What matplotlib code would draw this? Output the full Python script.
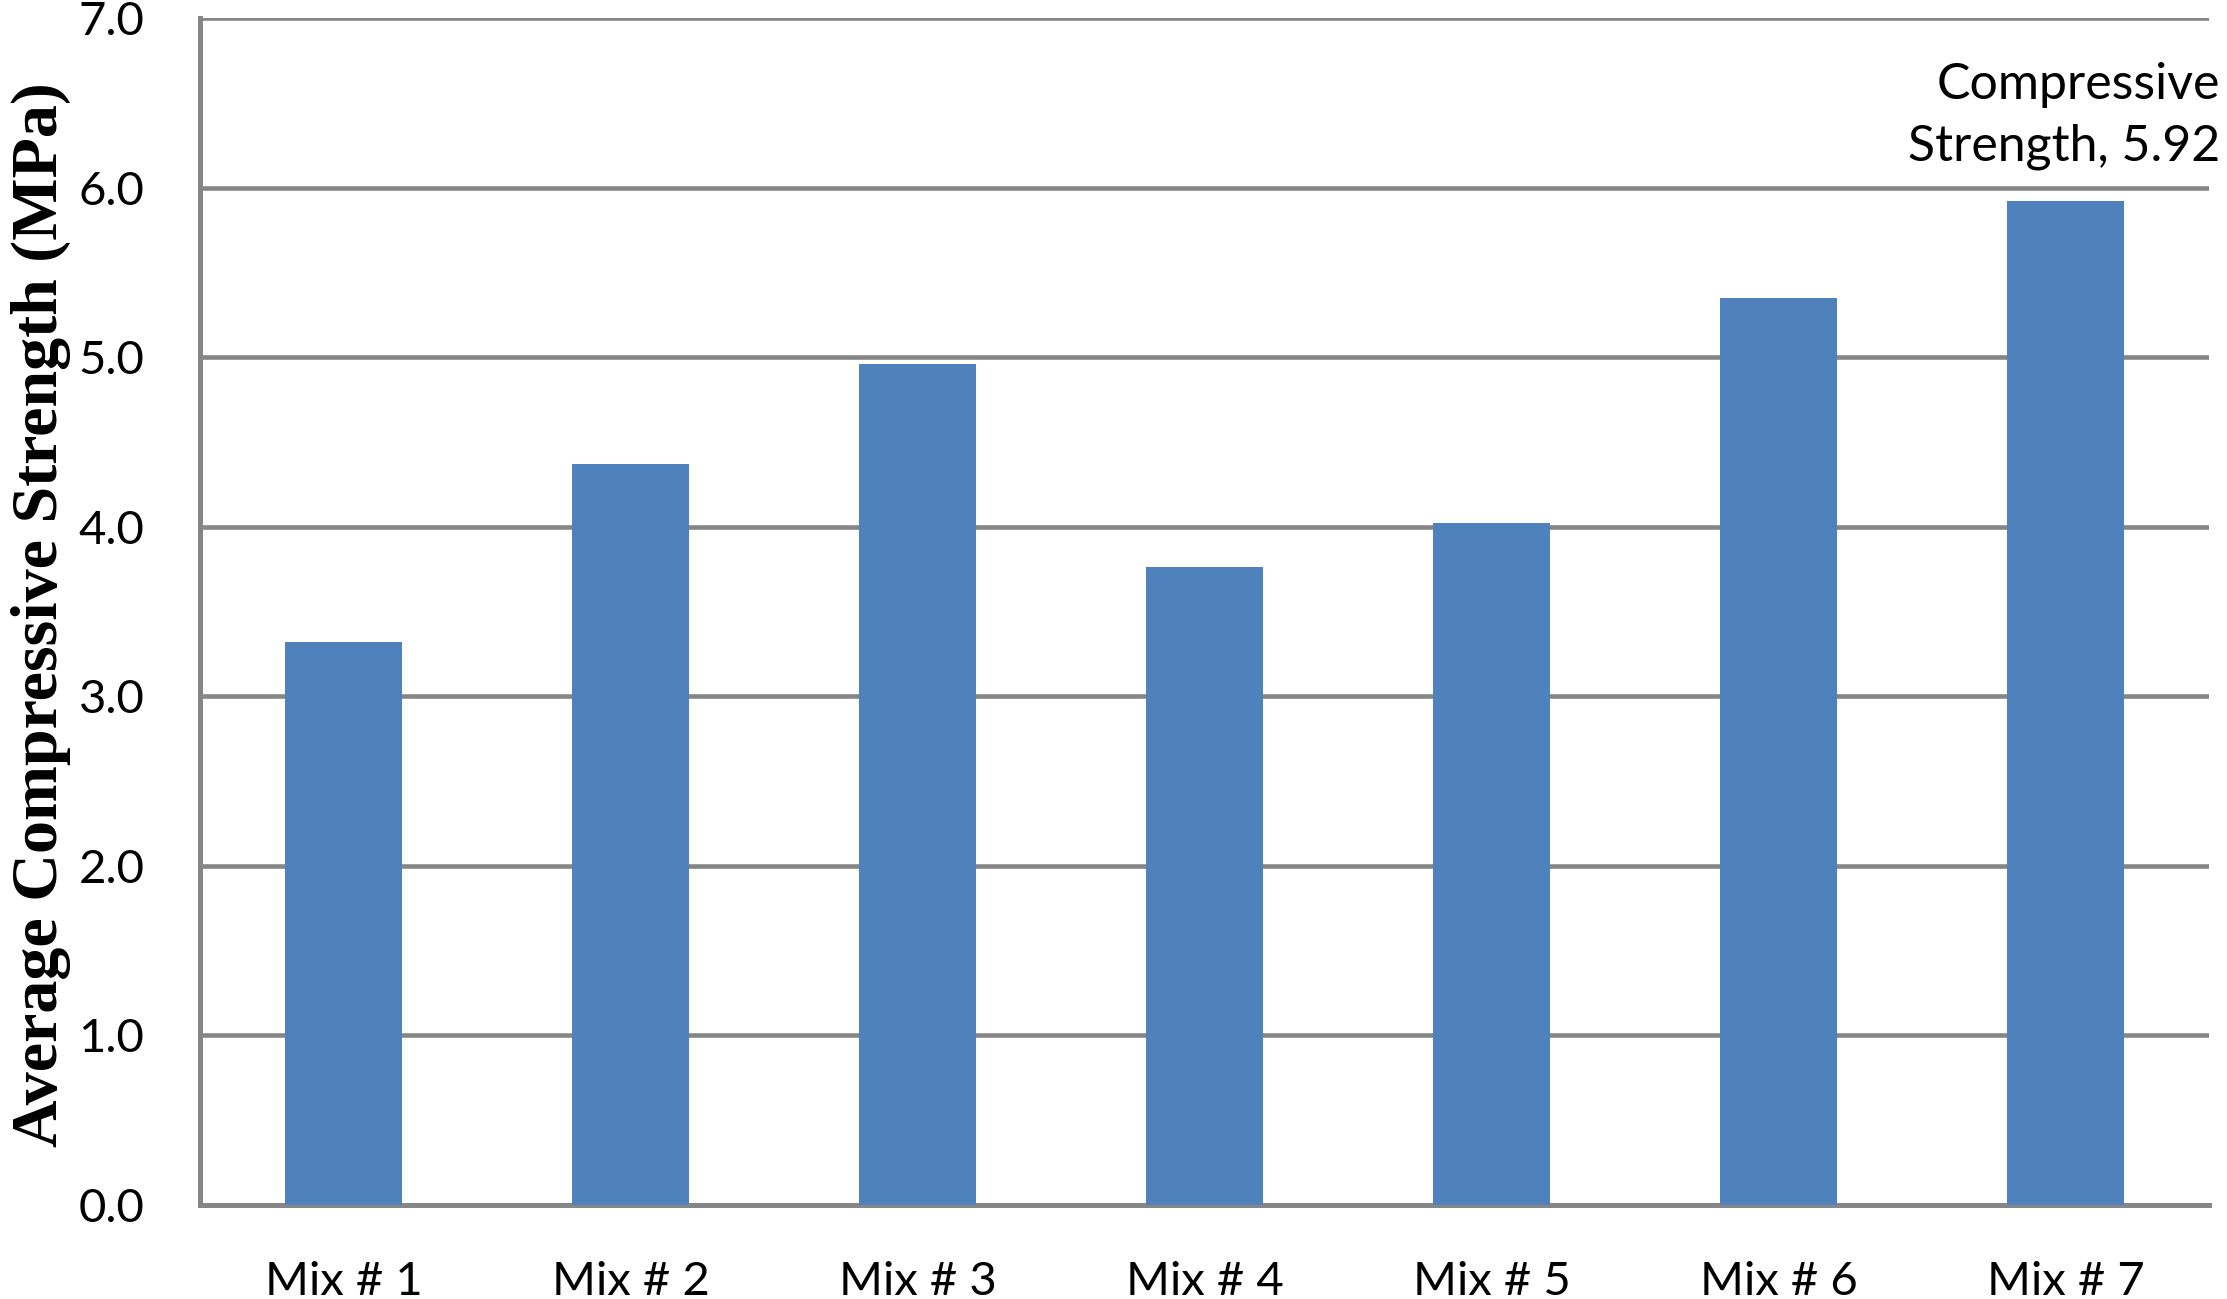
import matplotlib
matplotlib.use("Agg")
import matplotlib.pyplot as plt

categories = ["Mix # 1", "Mix # 2", "Mix # 3", "Mix # 4", "Mix # 5", "Mix # 6", "Mix # 7"]
strength = [3.32, 4.37, 4.96, 3.76, 4.02, 5.35, 5.92]
yticks = [0.0, 1.0, 2.0, 3.0, 4.0, 5.0, 6.0, 7.0]

W, H, DPI = 2227, 1299, 100
fig = plt.figure(figsize=(W / DPI, H / DPI), dpi=DPI)
ax = fig.add_axes([200 / W, 1 - 1205 / H, 2009 / W, (1205 - 18) / H])

grid_c = "#868686"
x = list(range(len(categories)))
ax.bar(x, strength, width=0.41, color="#4F81BD", zorder=3)
ax.set_xlim(-0.5, len(categories) - 0.5)
ax.set_ylim(0, 7)
ax.set_yticks(yticks)
ax.set_yticklabels([f"{v:.1f}" for v in yticks], fontfamily="Lato", fontsize=34)
ax.set_xticks(x)
ax.set_xticklabels(categories, fontfamily="Lato", fontsize=34)
ax.yaxis.grid(True, color=grid_c, linewidth=3.3, zorder=0)
ax.set_axisbelow(True)
for s in ["top", "right"]:
    ax.spines[s].set_visible(False)
for s in ["left", "bottom"]:
    ax.spines[s].set_color(grid_c)
    ax.spines[s].set_linewidth(3.6)
ax.tick_params(axis="y", length=0, pad=40)
ax.tick_params(axis="x", length=0, pad=40)

ax.set_ylabel("Average Compressive Strength (MPa)", fontfamily="Liberation Serif",
              fontweight="bold", fontsize=47.5)
ax.yaxis.set_label_coords(-0.064, 0.497)

ax.annotate("Compressive\nStrength, 5.92", xy=(6, strength[6]),
            xytext=(2220, 1299 - 62), textcoords="figure pixels",
            ha="right", va="top", fontfamily="Lato", fontsize=36,
            linespacing=1.42)

fig.savefig("out.png", dpi=DPI, facecolor="white")
